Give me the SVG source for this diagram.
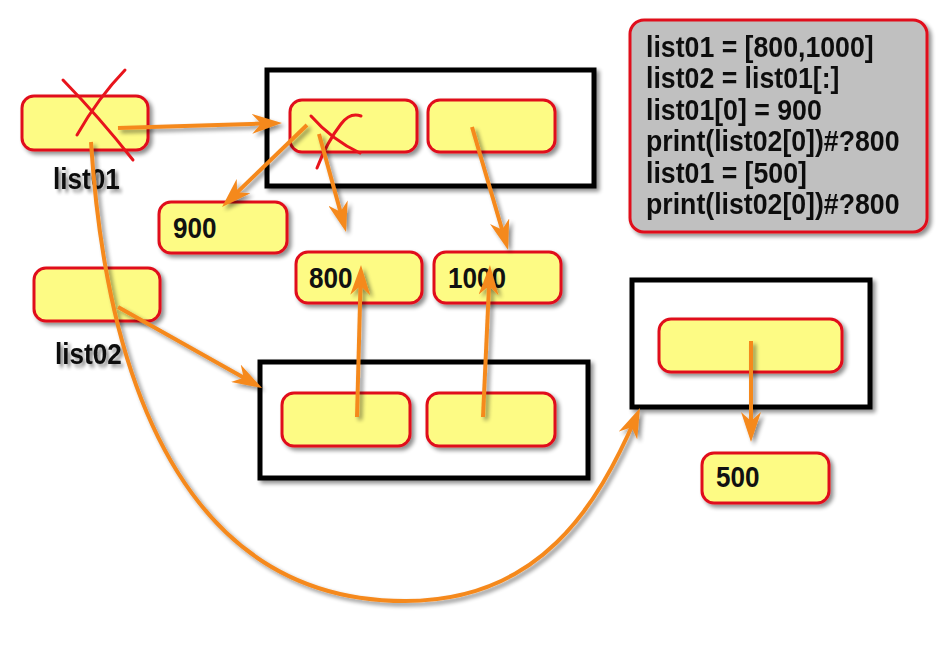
<svg xmlns="http://www.w3.org/2000/svg" width="948" height="646" viewBox="0 0 948 646">
<defs>
<filter id="sh" x="-20%" y="-20%" width="140%" height="140%">
<feGaussianBlur in="SourceAlpha" stdDeviation="2"/>
<feOffset dx="3" dy="3" result="b"/>
<feComponentTransfer><feFuncA type="linear" slope="0.45"/></feComponentTransfer>
<feMerge><feMergeNode/><feMergeNode in="SourceGraphic"/></feMerge>
</filter>
<marker id="ah" viewBox="0 0 30 20" refX="22" refY="10" markerWidth="30" markerHeight="20" markerUnits="userSpaceOnUse" orient="auto">
<path d="M0,0 L30,10 L0,20 L9,10 Z" fill="#f5891f"/>
</marker>
</defs>
<style>
.node{fill:#fdfb84;stroke:#e0101a;stroke-width:3}
.box{fill:#ffffff;stroke:#000;stroke-width:5}
.code{fill:#c0c0c0;stroke:#e0101a;stroke-width:3}
.t{font-family:"Liberation Sans",Arial,sans-serif;font-weight:bold;font-size:30px;fill:#111}
.x{fill:none;stroke:#e8141c;stroke-width:3;stroke-linecap:round}
.c{fill:none;stroke:#f5891f;stroke-width:4;marker-end:url(#ah)}
</style>
<rect width="948" height="646" fill="#ffffff"/>

<g id="code" filter="url(#sh)">
<rect class="code" x="630" y="20" width="297" height="212" rx="14"/>
<g class="t" transform="translate(646,0) scale(0.89,1)">
<text x="0" y="57">list01 = [800,1000]</text>
<text x="0" y="88.5">list02 = list01[:]</text>
<text x="0" y="120">list01[0] = 900</text>
<text x="0" y="151.5">print(list02[0])#?800</text>
<text x="0" y="183">list01 = [500]</text>
<text x="0" y="214.5">print(list02[0])#?800</text>
</g>
</g>

<g id="list01">
<rect class="node" x="22" y="96" width="126" height="54" rx="12" filter="url(#sh)"/>
<text class="t" transform="translate(53,189) scale(0.87,1)" filter="url(#sh)">list01</text>
<path class="x" d="M63,80 Q100,118 133,160"/>
<path class="x" d="M125,70 Q98,98 77,135"/>
</g>

<g id="list02">
<rect class="node" x="34" y="268" width="126" height="53" rx="12" filter="url(#sh)"/>
<text class="t" transform="translate(55,364) scale(0.87,1)" filter="url(#sh)">list02</text>
</g>

<g id="box-top" filter="url(#sh)">
<rect class="box" x="267" y="70" width="327" height="116"/>
</g>
<g id="nodeA">
<rect class="node" x="290" y="100" width="127" height="52" rx="12" filter="url(#sh)"/>
<path class="x" d="M311,116 Q332,140 360,153"/>
<path class="x" d="M361,116 Q350,112 341,124 Q327,142 317,168"/>
</g>
<g id="nodeB">
<rect class="node" x="428" y="100" width="127" height="52" rx="12" filter="url(#sh)"/>
</g>

<g id="n900">
<rect class="node" x="159" y="202" width="128" height="51" rx="12" filter="url(#sh)"/>
<text class="t" transform="translate(173,238) scale(0.87,1)">900</text>
</g>
<g id="n800">
<rect class="node" x="296" y="252" width="126" height="51" rx="12" filter="url(#sh)"/>
<text class="t" transform="translate(309,288) scale(0.87,1)">800</text>
</g>
<g id="n1000">
<rect class="node" x="434" y="252" width="127" height="51" rx="12" filter="url(#sh)"/>
<text class="t" transform="translate(448,288) scale(0.87,1)">1000</text>
</g>

<g id="box-bottom" filter="url(#sh)">
<rect class="box" x="260" y="362" width="328" height="116"/>
</g>
<g id="nodeC">
<rect class="node" x="282" y="393" width="128" height="53" rx="12" filter="url(#sh)"/>
</g>
<g id="nodeD">
<rect class="node" x="427" y="393" width="128" height="53" rx="12" filter="url(#sh)"/>
</g>

<g id="box-right" filter="url(#sh)">
<rect class="box" x="632" y="280" width="238" height="127"/>
</g>
<g id="nodeE">
<rect class="node" x="659" y="319" width="183" height="53" rx="12" filter="url(#sh)"/>
</g>
<g id="n500">
<rect class="node" x="702" y="453" width="127" height="50" rx="12" filter="url(#sh)"/>
<text class="t" transform="translate(716,487) scale(0.87,1)">500</text>
</g>

<g id="connectors" filter="url(#sh)">
<path class="c" d="M118,128 L274,123.2"/>
<path class="c" d="M307,125 L227.8,201.4"/>
<path class="c" d="M319,134 L343.9,224.3"/>
<path class="c" d="M472,127 L505.8,242.3"/>
<path class="c" d="M118,307 L255,384.1"/>
<path class="c" d="M357,417 L360.8,273"/>
<path class="c" d="M483,417 L489.6,273"/>
<path class="c" d="M751,341 L751,434"/>
<path class="c" d="M91,142 C108,410 200,601 405,601 C540,601 597,507 636.8,415.3"/>
</g>
</svg>
